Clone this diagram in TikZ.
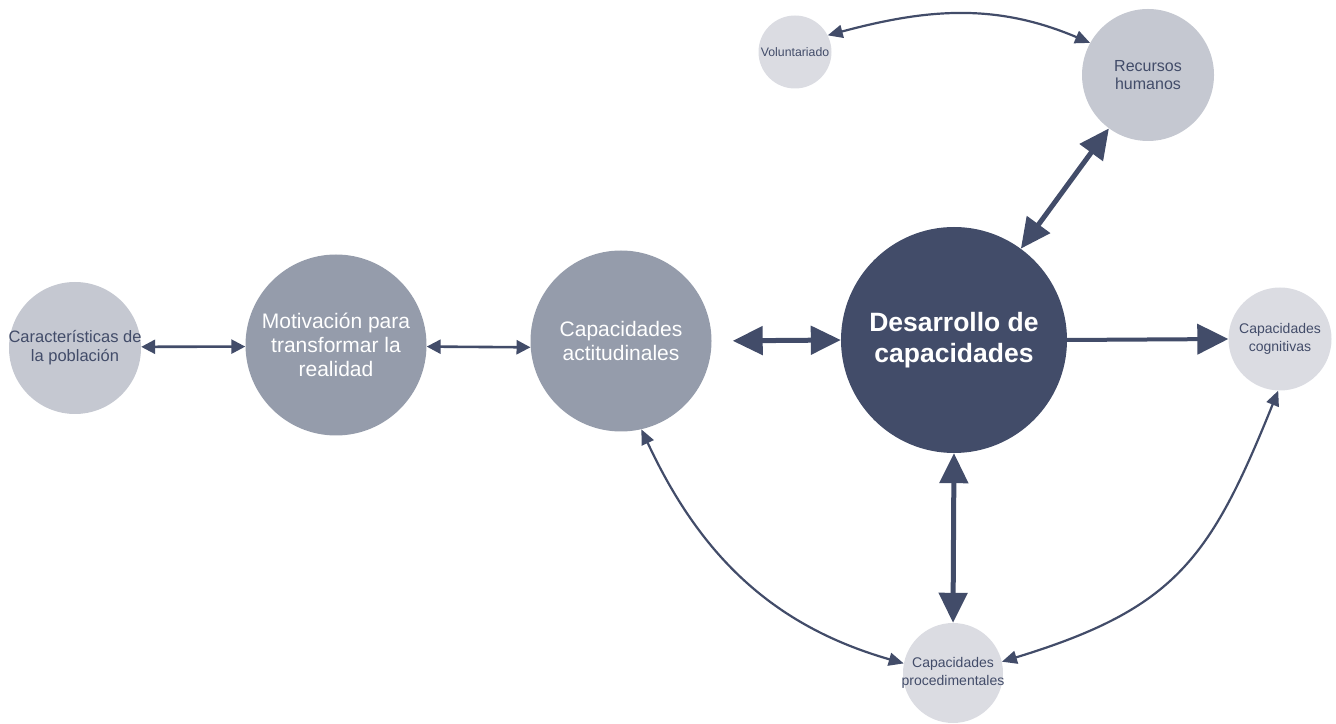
\documentclass[tikz,border=0pt]{standalone}
\usepackage{fontspec}
\setmainfont{Liberation Sans}
\usetikzlibrary{shapes.geometric, arrows.meta}
\definecolor{darknode}{HTML}{424C69}
\definecolor{midnode}{HTML}{959CAB}
\definecolor{lightnode}{HTML}{C5C8D1}
\definecolor{palenode}{HTML}{DBDCE2}
\tikzstyle{bubble} = [circle, 
inner sep=0pt, 
align=center]
\tikzstyle{core} = [bubble, 
minimum size=226pt, 
fill=darknode, 
text=white, 
font=\fontsize{26.5}{31}\selectfont\bfseries]
\tikzstyle{midbubble} = [bubble, 
minimum size=181pt, 
fill=midnode, 
text=white, 
font=\fontsize{21}{24}\selectfont]
\tikzstyle{lightbubble} = [bubble, 
minimum size=132pt, 
fill=lightnode, 
text=darknode, 
font=\fontsize{16}{18.5}\selectfont]
\tikzstyle{palebubble} = [bubble, 
minimum size=103pt, 
fill=palenode, 
text=darknode, 
font=\fontsize{14}{17.5}\selectfont]
\tikzstyle{thinarrow} = [line width=2.2pt, draw=darknode, {Triangle[length=15pt,width=13pt]}-{Triangle[length=15pt,width=13pt]}]
\tikzstyle{midarrow} = [line width=2.6pt, draw=darknode, {Triangle[length=14pt,width=14pt]}-{Triangle[length=14pt,width=14pt]}]
\tikzstyle{bigarrow} = [line width=5pt, draw=darknode, {Triangle[length=30pt,width=28pt]}-{Triangle[length=30pt,width=28pt]}]
\tikzstyle{onearrow} = [line width=4pt, draw=darknode, -{Triangle[length=31pt,width=30pt]}]
\begin{document}
\begin{tikzpicture}[x=1pt, y=1pt]
  \useasboundingbox (0,0) rectangle (1336,723);

  \node (desarr) [core] at (954,383) {Desarrollo de\\capacidades};
  \node (actit) [midbubble] at (621,382) {Capacidades\\actitudinales};
  \node (motiv) [midbubble] at (336,378) {Motivación para\\transformar la\\realidad};
  \node (pobl) [lightbubble, inner sep=-15pt, font=\fontsize{16.5}{19}\selectfont] at (75,375) {Características de\\la población};
  \node (rrhh) [lightbubble] at (1148,648) {Recursos\\humanos};
  \node (vol) [palebubble, minimum size=73pt, font=\fontsize{12.3}{14}\selectfont] at (795,671) {Voluntariado};
  \node (cognit) [palebubble] at (1280,384) {Capacidades\\cognitivas};
  \node (proced) [palebubble, minimum size=100pt, inner sep=-10pt] at (953,50) {Capacidades\\procedimentales};

  \draw [midarrow] (pobl.1) -- (motiv.181);
  \draw [midarrow] (motiv.-1) -- (actit.184);
  \draw [bigarrow, shorten <=21pt] (actit.east) -- (desarr.west);
  \draw [onearrow] (desarr.east) -- (cognit.west);
  \draw [bigarrow] (desarr) -- (rrhh);
  \draw [bigarrow] (desarr.south) -- (proced.north);
  \draw [thinarrow] (vol.27) to[out=15, in=157] (rrhh.151);
  \draw [thinarrow] (actit.-77) to[out=-65, in=164] (proced.169);
  \draw [thinarrow] (cognit.-92) to[out=-112, in=17, looseness=1.2] (proced.13);
\end{tikzpicture}
\end{document}
